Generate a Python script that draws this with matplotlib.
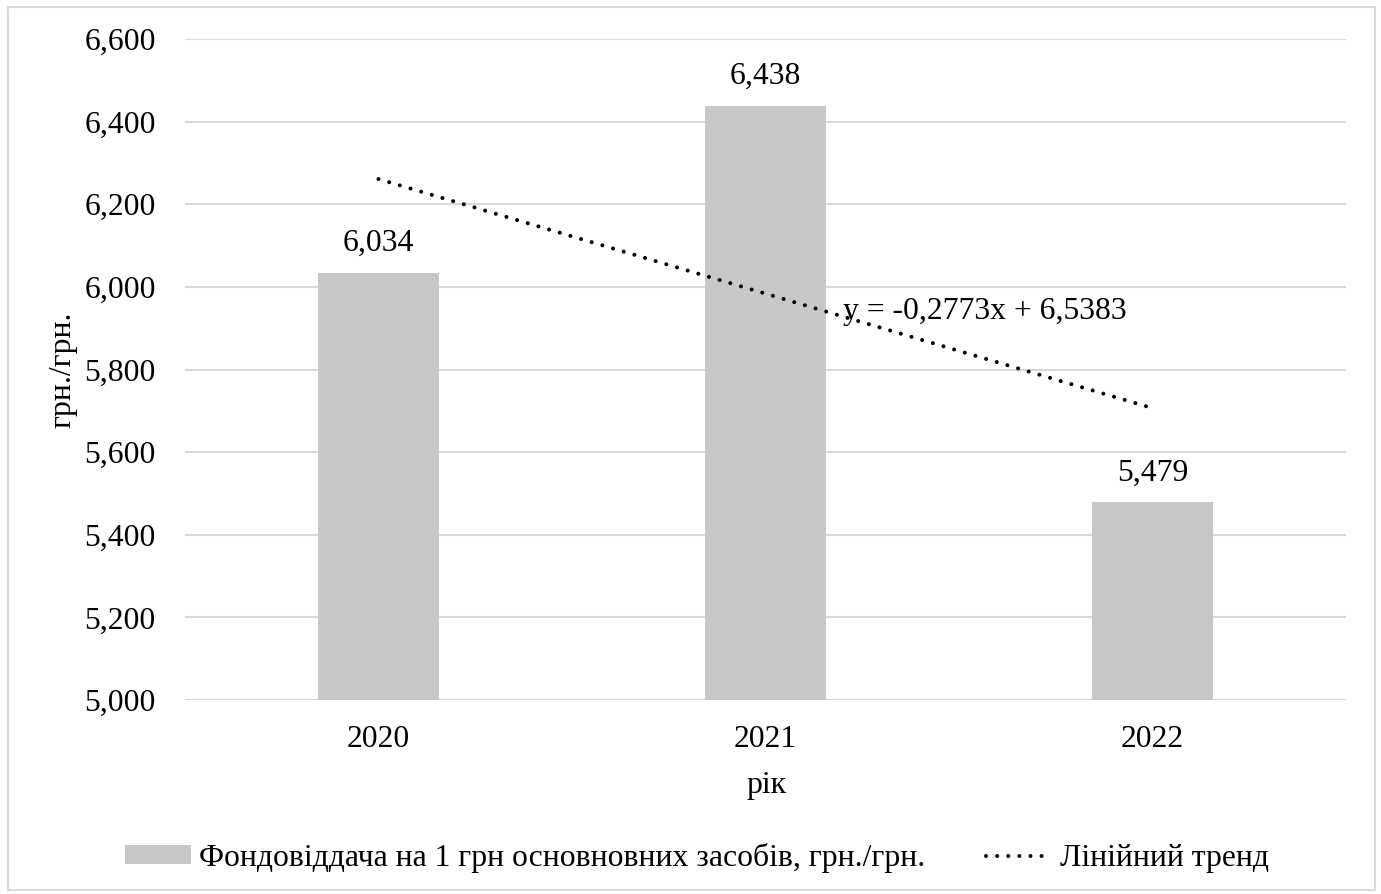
import matplotlib
matplotlib.use("Agg")
import matplotlib.pyplot as plt
import numpy as np
from matplotlib.patches import Rectangle, Patch
from matplotlib.lines import Line2D

categories = ["2020", "2021", "2022"]
values = [6.034, 6.438, 5.479]
trend_slope = -0.2773
trend_intercept = 6.5383
y_ticks = [5.0, 5.2, 5.4, 5.6, 5.8, 6.0, 6.2, 6.4, 6.6]
bar_label = "Фондовіддача на 1 грн основновних засобів, грн./грн."
trend_label = "Лінійний тренд"
equation = "y = -0,2773x + 6,5383"
x_title = "рік"
y_title = "грн./грн."

plt.rcParams['font.family'] = ['Liberation Serif', 'DejaVu Serif']
FS = 22.8

W, H = 1381, 894
fig = plt.figure(figsize=(W / 100, H / 100), dpi=100)
ax = fig.add_axes([185 / W, 1 - 700 / H, (1346 - 185) / W, (700 - 39) / H])

x = np.arange(len(categories))
ax.bar(x, values, width=0.3125, color="#c8c8c8", zorder=2)

def fmt(v):
    return f"{v:.3f}".replace(".", ",")

for xi, v in zip(x, values):
    ax.annotate(fmt(v), (xi, v), xytext=(0, 21), textcoords="offset points",
                ha="center", va="center", fontsize=FS)

DOT = (0, (0.01, 2.75))
LW = 2.9
xt = x + 1
trend = trend_slope * xt + trend_intercept
ax.plot(x, trend, color="black", lw=LW, linestyle=DOT,
        dash_capstyle="round", zorder=3)

ax.text(1.2, 5.94, equation, fontsize=FS, va="center", ha="left", zorder=4)

ax.set_xlim(-0.5, 2.5)
ax.set_ylim(5.0, 6.6)
ax.set_yticks(y_ticks)
ax.set_yticklabels([fmt(v) for v in y_ticks])
ax.set_xticks(x)
ax.set_xticklabels(categories)
ax.tick_params(axis="both", length=0, labelsize=FS)
ax.tick_params(axis="y", pad=21)
ax.tick_params(axis="x", pad=18)
ax.grid(axis="y", color="#d9d9d9", lw=1.5, zorder=0)
ax.set_axisbelow(True)
for s in ax.spines.values():
    s.set_visible(False)

fig.text(766 / W, 1 - 785 / H, x_title, fontsize=FS, ha="center", va="center")
fig.text(63 / W, 1 - 370 / H, y_title, fontsize=FS, ha="center", va="center", rotation=90)

handles = [Patch(facecolor="#c8c8c8", edgecolor="none"),
           Line2D([0], [0], color="black", lw=LW, linestyle=DOT, dash_capstyle="round")]
fig.legend(handles, [bar_label, trend_label], loc="center", ncol=2,
           bbox_to_anchor=(697 / W, 1 - 858 / H), frameon=False, fontsize=FS,
           handlelength=2.1, handletextpad=0.25, columnspacing=1.9, handleheight=0.55)

fig.patches.append(Rectangle((8 / W, 1 - 890 / H), (1375 - 8) / W, (890 - 7) / H,
                             transform=fig.transFigure, fill=False,
                             edgecolor="#d9d9d9", lw=1.5))

fig.savefig("out.png", dpi=100, facecolor="white")
